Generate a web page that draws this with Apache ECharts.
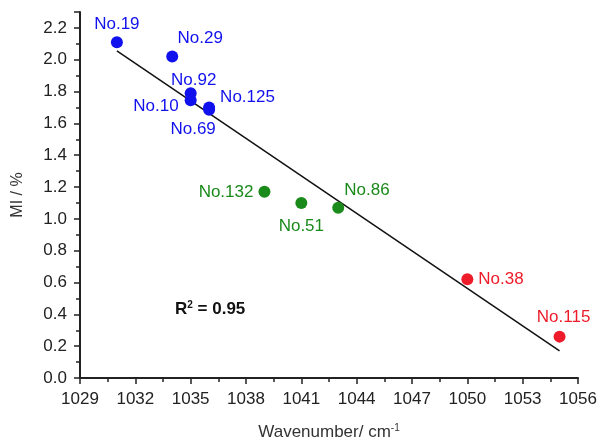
<!DOCTYPE html>
<html>
<head>
<meta charset="utf-8">
<script src="https://cdn.jsdelivr.net/npm/echarts@6/dist/echarts.min.js"></script>
<style>
  html, body { margin: 0; padding: 0; background: #fff; }
  #chart { width: 599px; height: 441px; }
</style>
</head>
<body>
<div id="chart"></div>
<script>
// samples: [wavenumber, MI, name]
const blueSamples = [
  [1031, 2.11, 'No.19'],
  [1034, 2.02, 'No.29'],
  [1035, 1.79, 'No.92'],
  [1035, 1.745, 'No.10'],
  [1036, 1.70, 'No.125'],
  [1036, 1.685, 'No.69'],
];
const greenSamples = [
  [1039, 1.17, 'No.132'],
  [1041, 1.10, 'No.51'],
  [1043, 1.07, 'No.86'],
];
const redSamples = [
  [1050, 0.62, 'No.38'],
  [1055, 0.26, 'No.115'],
];
const fitLine = [
  [1031, 2.055],
  [1055, 0.17],
];

// where each label sits relative to its point
const labelPlace = {
  'No.19': { position: 'top', offset: [0, 2] },
  'No.29': { position: 'top', offset: [28, 1] },
  'No.92': { position: 'top', offset: [3, 7] },
  'No.10': { position: 'left', offset: [-1, 6] },
  'No.125': { position: 'right', offset: [0, -10] },
  'No.69': { position: 'bottom', offset: [-16, 0] },
  'No.132': { position: 'left', offset: [0, 0] },
  'No.51': { position: 'bottom', offset: [0, 4] },
  'No.86': { position: 'right', offset: [-5, -17] },
  'No.38': { position: 'right', offset: [0, 0] },
  'No.115': { position: 'top', offset: [4, 0] },
};

const FONT = 'Liberation Sans, Arial, sans-serif';

const toItems = (rows, color) =>
  rows.map((r) => ({
    value: [r[0], r[1]],
    name: r[2],
    label: {
      show: true,
      formatter: r[2],
      color: color,
      fontSize: 17,
      fontFamily: FONT,
      distance: 5,
      ...labelPlace[r[2]],
    },
  }));

const scatter = (rows, color) => ({
  type: 'scatter',
  symbolSize: 12,
  itemStyle: { color: color, opacity: 1 },
  data: toItems(rows, color),
  z: 3,
});

const chart = echarts.init(document.getElementById('chart'));

const axisCommon = {
  axisLine: { show: true, lineStyle: { color: '#222', width: 2 } },
  axisTick: { show: true, inside: false, length: 6, lineStyle: { color: '#222', width: 1.5 } },
  minorTick: { show: true, splitNumber: 2, length: 4, lineStyle: { color: '#222', width: 1.5 } },
  splitLine: { show: false },
  axisLabel: { color: '#222', fontSize: 17, fontFamily: FONT },
};

chart.setOption({
  backgroundColor: '#fff',
  animation: false,
  grid: { left: 80, right: 21, top: 12, bottom: 63, outerBoundsMode: 'none' },
  xAxis: {
    type: 'value',
    min: 1029,
    max: 1056,
    interval: 3,
    ...axisCommon,
    axisLabel: { ...axisCommon.axisLabel, margin: 13, formatter: (v) => String(v) },
    name: 'Wavenumber/ cm{sup|-1}',
    nameLocation: 'middle',
    nameGap: 45,
    nameTextStyle: {
      color: '#333',
      fontSize: 17,
      fontFamily: FONT,
      rich: { sup: { fontSize: 10, verticalAlign: 'top', color: '#333', fontFamily: FONT, padding: [0, 0, 8, 0] } },
    },
  },
  yAxis: {
    type: 'value',
    min: 0,
    max: 2.3,
    interval: 0.2,
    ...axisCommon,
    axisLabel: {
      ...axisCommon.axisLabel,
      margin: 13,
      showMaxLabel: false,
      formatter: (v) => v.toFixed(1),
    },
    name: 'MI / %',
    nameLocation: 'middle',
    nameGap: 54,
    nameRotate: 90,
    nameTextStyle: { color: '#333', fontSize: 16, fontFamily: FONT },
  },
  graphic: [
    {
      type: 'text',
      left: 175,
      top: 300,
      style: {
        text: '{b|R}{s|2}{b| = 0.95}',
        rich: {
          b: { fontSize: 17, fontWeight: 'bold', fill: '#111', fontFamily: FONT },
          s: { fontSize: 10, fontWeight: 'bold', fill: '#111', fontFamily: FONT, verticalAlign: 'top', padding: [0, 0, 8, 0] },
        },
      },
    },
  ],
  series: [
    {
      type: 'line',
      data: fitLine,
      showSymbol: false,
      lineStyle: { color: '#111', width: 1.5 },
      z: 2,
    },
    scatter(blueSamples, '#1111ee'),
    scatter(greenSamples, '#1a8a1a'),
    scatter(redSamples, '#ee1c2a'),
  ],
});
</script>
</body>
</html>
